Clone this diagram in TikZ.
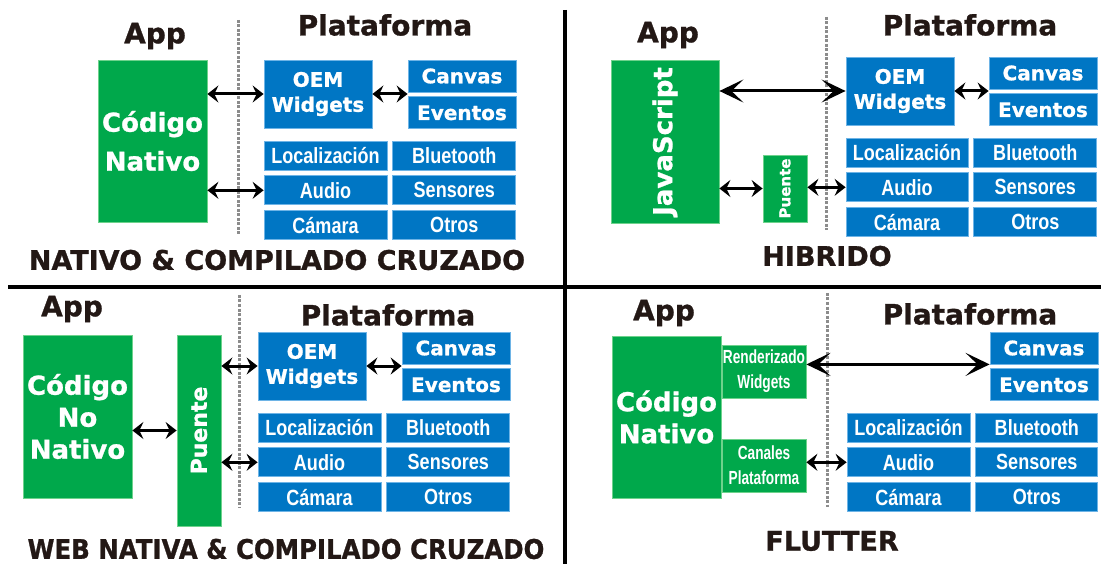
\documentclass[tikz,border=0pt]{standalone}
\usepackage{fontspec}
\setmainfont{DejaVu Sans}[BoldFeatures={FakeBold=1}]
\newfontfamily\narrowfont[FakeStretch=0.82]{Liberation Sans}
\newfontfamily\narrowerfont[FakeStretch=0.72]{Liberation Sans}
\usetikzlibrary{positioning,arrows.meta}
\definecolor{ink}{RGB}{35,24,21}
\definecolor{appgreen}{RGB}{0,168,75}
\definecolor{appgreenlt}{RGB}{110,210,140}
\definecolor{platblue}{RGB}{0,118,196}
\definecolor{platbluelt}{RGB}{110,180,230}
\definecolor{sepgray}{RGB}{140,140,140}

\begin{document}
\begin{tikzpicture}[
		x=1pt, y=-1pt,
		node distance=5pt,
		head/.style = {text=ink, font=\bfseries\fontsize{28}{30}\selectfont},
		kind/.style = {text=ink, font=\bfseries\fontsize{27}{30}\selectfont},
		app/.style = {fill=appgreen, draw=appgreenlt, line width=.8pt, text=white, align=center, inner sep=0pt, font=\bfseries\fontsize{26}{32}\selectfont},
		tag/.style = {text=white, inner sep=0pt, font=\bfseries\fontsize{26}{32}\selectfont},
		layer/.style = {app, minimum width=84pt, minimum height=53pt, font=\narrowerfont\bfseries\fontsize{19}{25}\selectfont},
		oem/.style = {fill=platblue, draw=platbluelt, line width=.8pt, text=white, align=center, inner sep=0pt, minimum width=108pt, font=\bfseries\fontsize{20}{25}\selectfont},
		svc/.style = {fill=platblue, draw=platbluelt, line width=.8pt, text=white, inner sep=0pt, minimum width=123pt, minimum height=29pt, font=\narrowfont\bfseries\fontsize{22}{24}\selectfont},
		link/.style = {{Stealth[length=11pt,width=17pt,inset=4pt]}-{Stealth[length=11pt,width=17pt,inset=4pt]}, line width=3pt},
		longlink/.style = {{Stealth[length=24pt,width=23pt,inset=12pt]}-{Stealth[length=24pt,width=23pt,inset=12pt]}, line width=3pt},
		border/.style = {sepgray, line width=3pt, dash pattern=on 3pt off 1.5pt},
		divider/.style = {line width=4pt}
	]
	\useasboundingbox (0,0) rectangle (1101,564);
	% Nativo & compilado cruzado.
	\node[head] (app1) at (155,36) {App};
	\node[head] (plat1) at (385,25) {Plataforma};
	\node[app, minimum width=109pt, minimum height=162pt] (code1) at (152.5,141) {Código\\[7pt]Nativo};
	\draw[border] (238,20) -- (238,235);
	\node[oem, minimum height=68pt] (oem1) at (318,94) {OEM\\Widgets};
	\node[oem, minimum height=32pt] (canvas1) at (462,76) {Canvas};
	\node[oem, minimum height=32pt, below=4pt of canvas1] (events1) {Eventos};
	\node[svc] (loc1) at (325.5,155.5) {Localización};
	\node[svc, right=of loc1] (blue1) {Bluetooth};
	\node[svc, below=of loc1] (audio1) {Audio};
	\node[svc, below=of blue1] (sens1) {Sensores};
	\node[svc, below=of audio1] (cam1) {Cámara};
	\node[svc, below=of sens1] (other1) {Otros};
	\node[kind] (title1) at (277,260) {NATIVO \& COMPILADO CRUZADO};
	\draw[link] (code1.east |- oem1) -- (oem1.west);
	\draw[link] (code1.east |- audio1) -- (audio1.west);
	\draw[link] (oem1.east) -- (oem1.east -| canvas1.south west);
	% Hibrido.
	\node[head] (app2) at (668,35) {App};
	\node[head] (plat2) at (970,25) {Plataforma};
	\node[app, minimum width=108pt, minimum height=163pt] (js) at (665,141.5) {};
	\node[tag, rotate=90] (jstext) at (js) {JavaScript};
	\node[app, minimum width=44pt, minimum height=67pt] (bridge2) at (785,188.5) {};
	\node[tag, rotate=90, font=\bfseries\fontsize{15}{17}\selectfont] (bridgetext2) at (bridge2) {Puente};
	\draw[border] (826,17) -- (826,230);
	\node[oem, minimum height=68pt] (oem2) at (900,91) {OEM\\Widgets};
	\node[oem, minimum height=32pt] (canvas2) at (1043,73) {Canvas};
	\node[oem, minimum height=32pt, below=4pt of canvas2] (events2) {Eventos};
	\node[svc, minimum width=122pt] (loc2) at (907,152.5) {Localización};
	\node[svc, right=of loc2] (blue2) {Bluetooth};
	\node[svc, minimum width=122pt, below=of loc2] (audio2) {Audio};
	\node[svc, below=of blue2] (sens2) {Sensores};
	\node[svc, minimum width=122pt, below=of audio2] (cam2) {Cámara};
	\node[svc, below=of sens2] (other2) {Otros};
	\node[kind] (title2) at (827,256) {HIBRIDO};
	\draw[longlink] (js.east |- oem2) -- (oem2.west);
	\draw[link] (js.east |- bridge2) -- (bridge2.west);
	\draw[link] (bridge2.east |- audio2) -- (audio2.west);
	\draw[link] (oem2.east) -- (oem2.east -| canvas2.south west);
	% Web nativa & compilado cruzado.
	\node[head] (app3) at (72,309) {App};
	\node[head] (plat3) at (388,315) {Plataforma};
	\node[app, minimum width=109pt, minimum height=163pt] (code3) at (77.5,416.5) {Código\\No\\Nativo};
	\node[app, minimum width=44pt, minimum height=191pt] (bridge3) at (199,430.5) {};
	\node[tag, rotate=90, font=\bfseries\fontsize{22}{24}\selectfont] (bridgetext3) at (bridge3) {Puente};
	\draw[border] (239,295) -- (239,507);
	\node[oem, minimum height=68pt] (oem3) at (312,366) {OEM\\Widgets};
	\node[oem, minimum height=32pt] (canvas3) at (456,348) {Canvas};
	\node[oem, minimum height=32pt, below=4pt of canvas3] (events3) {Eventos};
	\node[svc] (loc3) at (319.5,427.5) {Localización};
	\node[svc, right=of loc3] (blue3) {Bluetooth};
	\node[svc, below=of loc3] (audio3) {Audio};
	\node[svc, below=of blue3] (sens3) {Sensores};
	\node[svc, below=of audio3] (cam3) {Cámara};
	\node[svc, below=of sens3] (other3) {Otros};
	\node[kind, xscale=0.905, transform shape] (title3) at (286,549) {WEB NATIVA \& COMPILADO CRUZADO};
	\draw[link] (code3.east |- bridge3) -- (bridge3.west);
	\draw[link] (bridge3.east |- oem3) -- (oem3.west);
	\draw[link] (bridge3.east |- audio3) -- (audio3.west);
	\draw[link] (oem3.east) -- (oem3.east -| canvas3.south west);
	% Flutter.
	\node[head] (app4) at (664,313) {App};
	\node[head] (plat4) at (970,314) {Plataforma};
	\node[app, minimum width=109pt, minimum height=162pt] (code4) at (666.5,417) {Código\\Nativo};
	\node[layer] (render) at (764,371.5) {Renderizado\\Widgets};
	\node[layer] (chan) at (764,465.5) {Canales\\Plataforma};
	\draw[border] (827,293) -- (827,507);
	\node[oem, minimum height=32pt] (canvas4) at (1044,348) {Canvas};
	\node[oem, minimum height=32pt, below=4pt of canvas4] (events4) {Eventos};
	\node[svc] (loc4) at (908.5,427.5) {Localización};
	\node[svc, minimum width=122pt, right=of loc4] (blue4) {Bluetooth};
	\node[svc, below=of loc4] (audio4) {Audio};
	\node[svc, minimum width=122pt, below=of blue4] (sens4) {Sensores};
	\node[svc, below=of audio4] (cam4) {Cámara};
	\node[svc, minimum width=122pt, below=of sens4] (other4) {Otros};
	\node[kind] (title4) at (832,541) {FLUTTER};
	\draw[longlink] (render.east |- canvas4.south) -- (canvas4.south west);
	\draw[link] (chan.east |- audio4) -- (audio4.west);
	% Dividers.
	\draw[divider] (8,287) -- (1101,287);
	\draw[divider] (565,10) -- (565,564);
\end{tikzpicture}
\end{document}
